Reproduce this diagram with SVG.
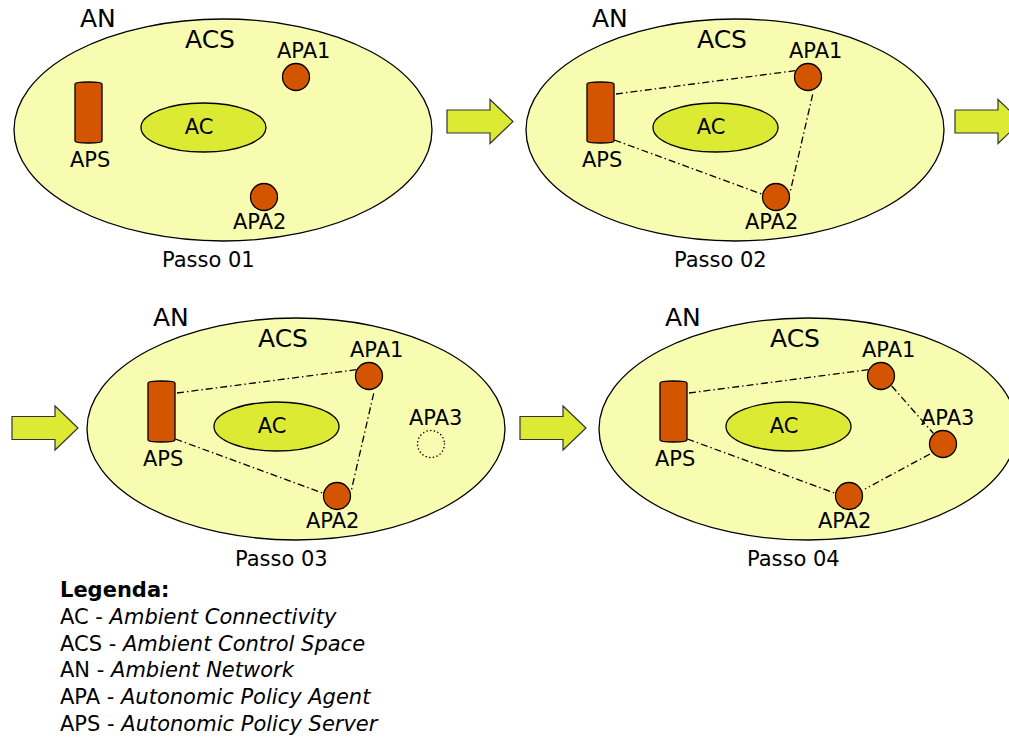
<svg xmlns="http://www.w3.org/2000/svg" xmlns:xlink="http://www.w3.org/1999/xlink" width="1009" height="738" viewBox="0 0 1009 738">
  <style>
    text { font-family: "DejaVu Sans", "Noto Sans", sans-serif; fill: #000; }
    .big { font-size: 25px; }
    .lbl { font-size: 21px; }
    .acs { fill: #f8fcb0; stroke: #000; stroke-width: 1.3; }
    .ac { fill: #dcea34; stroke: #000; stroke-width: 1.3; }
    .agent { fill: #d45500; stroke: #000; stroke-width: 1.3; }
    .ghost { fill: none; stroke: #000; stroke-width: 1.5; stroke-dasharray: 0.1 3.6; stroke-linecap: round; }
    .link { fill: none; stroke: #000; stroke-width: 1.3; stroke-dasharray: 7 3 1.5 3; }
    .step { fill: #dcea34; stroke: #333; stroke-width: 1.2; }
    .legend { font-size: 21px; }
  </style>
  <defs>
    <!-- step arrow, origin at the left end of the shaft, on its axis -->
    <path id="stepArrow" class="step" d="M0,-11.5 H43 V-22 L66,0 L43,22 V11.5 H0 Z"/>
    <!-- server drawn as a small cylinder -->
    <g id="server">
      <path class="agent" d="M75,84 Q75,82 88.5,82 Q102,82 102,84 V141 Q102,143 88.5,143 Q75,143 75,141 Z"/>
    </g>
  </defs>

  <!-- Step 01 -->
  <g id="passo01">
    <text class="big" x="80" y="27">AN</text>
    <ellipse id="acs01" class="acs" cx="223" cy="130" rx="209" ry="111"/>
    <text class="big" x="185" y="48">ACS</text>
    <g id="ac01"><ellipse class="ac" cx="203.5" cy="127.5" rx="62.5" ry="24.5"/><text class="lbl" x="199" y="134" text-anchor="middle">AC</text></g>
    <g id="aps01"><use xlink:href="#server"/><text class="lbl" x="70" y="167">APS</text></g>
    <g id="apa1_01"><circle class="agent" cx="296" cy="77" r="13.5"/><text class="lbl" x="277" y="58">APA1</text></g>
    <g id="apa2_01"><circle class="agent" cx="264" cy="197" r="13.5"/><text class="lbl" x="233" y="229">APA2</text></g>
    <text class="lbl" x="162" y="267">Passo 01</text>
  </g>

  <!-- Step 02 -->
  <g id="passo02" transform="translate(512,0)">
    <text class="big" x="80" y="27">AN</text>
    <ellipse id="acs02" class="acs" cx="223" cy="130" rx="209" ry="111"/>
    <text class="big" x="185" y="48">ACS</text>
    <g id="ac02"><ellipse class="ac" cx="203.5" cy="127.5" rx="62.5" ry="24.5"/><text class="lbl" x="199" y="134" text-anchor="middle">AC</text></g>
    <g id="links02">
      <line class="link" x1="104" y1="94" x2="283.3" y2="70.7"/>
      <line class="link" x1="102.3" y1="140" x2="250.3" y2="194.3"/>
      <line class="link" x1="300.7" y1="94.3" x2="278" y2="192.7"/>
    </g>
    <g id="aps02"><use xlink:href="#server"/><text class="lbl" x="70" y="167">APS</text></g>
    <g id="apa1_02"><circle class="agent" cx="296" cy="77" r="13.5"/><text class="lbl" x="277" y="58">APA1</text></g>
    <g id="apa2_02"><circle class="agent" cx="264" cy="197" r="13.5"/><text class="lbl" x="233" y="229">APA2</text></g>
    <text class="lbl" x="162" y="267">Passo 02</text>
  </g>

  <!-- Step 03 -->
  <g id="passo03" transform="translate(73,299)">
    <text class="big" x="80" y="27">AN</text>
    <ellipse id="acs03" class="acs" cx="223" cy="130" rx="209" ry="111"/>
    <text class="big" x="185" y="48">ACS</text>
    <g id="ac03"><ellipse class="ac" cx="203.5" cy="127.5" rx="62.5" ry="24.5"/><text class="lbl" x="199" y="134" text-anchor="middle">AC</text></g>
    <g id="links03">
      <line class="link" x1="104" y1="94" x2="283.3" y2="70.7"/>
      <line class="link" x1="102.3" y1="140" x2="250.3" y2="194.3"/>
      <line class="link" x1="300.7" y1="94.3" x2="278" y2="192.7"/>
    </g>
    <g id="aps03"><use xlink:href="#server"/><text class="lbl" x="70" y="167">APS</text></g>
    <g id="apa1_03"><circle class="agent" cx="296" cy="77" r="13.5"/><text class="lbl" x="277" y="58">APA1</text></g>
    <g id="apa2_03"><circle class="agent" cx="264" cy="197" r="13.5"/><text class="lbl" x="233" y="229">APA2</text></g>
    <g id="apa3_03"><circle class="ghost" cx="358" cy="145" r="13.5"/><text class="lbl" x="336" y="126">APA3</text></g>
    <text class="lbl" x="162" y="267">Passo 03</text>
  </g>

  <!-- Step 04 -->
  <g id="passo04" transform="translate(585,299)">
    <text class="big" x="80" y="27">AN</text>
    <ellipse id="acs04" class="acs" cx="223" cy="130" rx="209" ry="111"/>
    <text class="big" x="185" y="48">ACS</text>
    <g id="ac04"><ellipse class="ac" cx="203.5" cy="127.5" rx="62.5" ry="24.5"/><text class="lbl" x="199" y="134" text-anchor="middle">AC</text></g>
    <g id="links04">
      <line class="link" x1="104" y1="94" x2="283.3" y2="70.7"/>
      <line class="link" x1="102.3" y1="140" x2="250.3" y2="194.3"/>
      <line class="link" x1="306.7" y1="87" x2="348.3" y2="134.3"/>
      <line class="link" x1="345" y1="155" x2="280" y2="190"/>
    </g>
    <g id="aps04"><use xlink:href="#server"/><text class="lbl" x="70" y="167">APS</text></g>
    <g id="apa1_04"><circle class="agent" cx="296" cy="77" r="13.5"/><text class="lbl" x="277" y="58">APA1</text></g>
    <g id="apa2_04"><circle class="agent" cx="264" cy="197" r="13.5"/><text class="lbl" x="233" y="229">APA2</text></g>
    <g id="apa3_04"><circle class="agent" cx="358" cy="145" r="13.5"/><text class="lbl" x="336" y="126">APA3</text></g>
    <text class="lbl" x="162" y="267">Passo 04</text>
  </g>

  <!-- arrows between steps -->
  <g id="steps">
    <use xlink:href="#stepArrow" transform="translate(447,121.5)"/>
    <use xlink:href="#stepArrow" transform="translate(955,121.5)"/>
    <use xlink:href="#stepArrow" transform="translate(12,428)"/>
    <use xlink:href="#stepArrow" transform="translate(520,428)"/>
  </g>

  <!-- legend -->
  <g id="legenda" class="legend">
    <text x="60" y="597" font-weight="bold">Legenda:</text>
    <text x="60" y="624">AC - <tspan font-style="italic">Ambient Connectivity</tspan></text>
    <text x="60" y="651">ACS - <tspan font-style="italic">Ambient Control Space</tspan></text>
    <text x="60" y="677">AN - <tspan font-style="italic">Ambient Network</tspan></text>
    <text x="60" y="704">APA - <tspan font-style="italic">Autonomic Policy Agent</tspan></text>
    <text x="60" y="731">APS - <tspan font-style="italic">Autonomic Policy Server</tspan></text>
  </g>
</svg>
